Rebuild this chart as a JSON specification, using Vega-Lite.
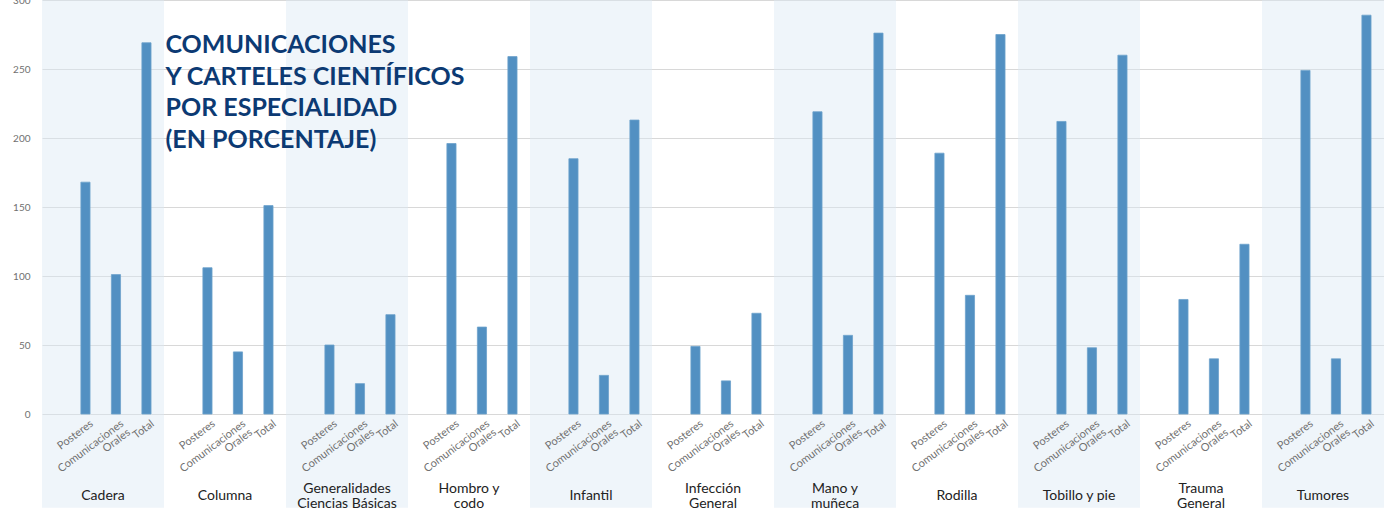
{
  "$schema": "https://vega.github.io/schema/vega-lite/v6.json",
  "padding": {"left": 12, "top": -5, "right": 0, "bottom": 0},
  "background": "white",
  "width": 1342,
  "height": 414,
  "data": {
    "values": [
      {"cat": "Cadera", "tipo": "Posteres", "valor": 168},
      {"cat": "Cadera", "tipo": "Comunicaciones Orales", "valor": 101},
      {"cat": "Cadera", "tipo": "Total", "valor": 269},
      {"cat": "Columna", "tipo": "Posteres", "valor": 106},
      {"cat": "Columna", "tipo": "Comunicaciones Orales", "valor": 45},
      {"cat": "Columna", "tipo": "Total", "valor": 151},
      {"cat": "Generalidades Ciencias Básicas", "tipo": "Posteres", "valor": 50},
      {"cat": "Generalidades Ciencias Básicas", "tipo": "Comunicaciones Orales", "valor": 22},
      {"cat": "Generalidades Ciencias Básicas", "tipo": "Total", "valor": 72},
      {"cat": "Hombro y codo", "tipo": "Posteres", "valor": 196},
      {"cat": "Hombro y codo", "tipo": "Comunicaciones Orales", "valor": 63},
      {"cat": "Hombro y codo", "tipo": "Total", "valor": 259},
      {"cat": "Infantil", "tipo": "Posteres", "valor": 185},
      {"cat": "Infantil", "tipo": "Comunicaciones Orales", "valor": 28},
      {"cat": "Infantil", "tipo": "Total", "valor": 213},
      {"cat": "Infección General", "tipo": "Posteres", "valor": 49},
      {"cat": "Infección General", "tipo": "Comunicaciones Orales", "valor": 24},
      {"cat": "Infección General", "tipo": "Total", "valor": 73},
      {"cat": "Mano y muñeca", "tipo": "Posteres", "valor": 219},
      {"cat": "Mano y muñeca", "tipo": "Comunicaciones Orales", "valor": 57},
      {"cat": "Mano y muñeca", "tipo": "Total", "valor": 276},
      {"cat": "Rodilla", "tipo": "Posteres", "valor": 189},
      {"cat": "Rodilla", "tipo": "Comunicaciones Orales", "valor": 86},
      {"cat": "Rodilla", "tipo": "Total", "valor": 275},
      {"cat": "Tobillo y pie", "tipo": "Posteres", "valor": 212},
      {"cat": "Tobillo y pie", "tipo": "Comunicaciones Orales", "valor": 48},
      {"cat": "Tobillo y pie", "tipo": "Total", "valor": 260},
      {"cat": "Trauma General", "tipo": "Posteres", "valor": 83},
      {"cat": "Trauma General", "tipo": "Comunicaciones Orales", "valor": 40},
      {"cat": "Trauma General", "tipo": "Total", "valor": 123},
      {"cat": "Tumores", "tipo": "Posteres", "valor": 249},
      {"cat": "Tumores", "tipo": "Comunicaciones Orales", "valor": 40},
      {"cat": "Tumores", "tipo": "Total", "valor": 289}
    ]
  },
  "encoding": {
    "x": {
      "field": "cat",
      "type": "nominal",
      "sort": null,
      "scale": {"paddingInner": 0, "paddingOuter": 0},
      "axis": {
        "title": null,
        "zindex": 1,
        "labelAngle": 0,
        "labelPadding": {
          "condition": {
            "test": "indexof(['Generalidades Ciencias Básicas', 'Hombro y codo', 'Infección General', 'Mano y muñeca', 'Trauma General'], datum.value) >= 0",
            "value": 74
          },
          "value": 81
        },
        "labelBaseline": "middle",
        "labelFont": "Lato",
        "labelFontSize": 14,
        "labelColor": "#222222",
        "labelLineHeight": 15,
        "ticks": false,
        "domain": false,
        "grid": false,
        "labelExpr": "datum.value == 'Generalidades Ciencias Básicas' ? ['Generalidades', 'Ciencias Básicas'] : datum.value == 'Hombro y codo' ? ['Hombro y', 'codo'] : datum.value == 'Infección General' ? ['Infección', 'General'] : datum.value == 'Mano y muñeca' ? ['Mano y', 'muñeca'] : datum.value == 'Trauma General' ? ['Trauma', 'General'] : datum.value"
      }
    },
    "y": {
      "type": "quantitative",
      "scale": {"domain": [0, 300], "nice": false},
      "axis": {
        "title": null,
        "zindex": 0,
        "grid": true,
        "gridColor": "#d8d8d8",
        "gridWidth": 1,
        "values": [0, 50, 100, 150, 200, 250, 300],
        "labelFont": "Lato",
        "labelFontSize": 10,
        "labelColor": "#707070",
        "labelPadding": 12,
        "ticks": false,
        "domain": false
      }
    }
  },
  "layer": [
    {
      "transform": [{"filter": "datum.tipo == 'Total'"}],
      "mark": {"type": "rect", "clip": false, "fillOpacity": 0.45},
      "encoding": {
        "y": {"datum": 300, "type": "quantitative"},
        "y2": {"datum": -68},
        "fill": {
          "condition": {
            "test": "indexof(['Cadera', 'Generalidades Ciencias Básicas', 'Infantil', 'Mano y muñeca', 'Tobillo y pie', 'Tumores'], datum.cat) >= 0",
            "value": "#dce8f3"
          },
          "value": "transparent"
        }
      }
    },
    {
      "mark": {"type": "bar", "color": "#5290c2", "stroke": "#6da2cc", "strokeWidth": 0.8},
      "encoding": {
        "xOffset": {
          "field": "tipo",
          "type": "nominal",
          "sort": ["Posteres", "Comunicaciones Orales", "Total"],
          "scale": {"paddingInner": 0.7, "paddingOuter": 0.85, "align": 0.75}
        },
        "y": {"field": "valor", "type": "quantitative"}
      }
    },
    {
      "mark": {
        "type": "text",
        "angle": -37,
        "align": "right",
        "baseline": "top",
        "dy": 5,
        "lineBreak": " ",
        "lineHeight": 11,
        "font": "Lato",
        "fontSize": 11,
        "color": "#707070"
      },
      "encoding": {
        "xOffset": {
          "field": "tipo",
          "type": "nominal",
          "sort": ["Posteres", "Comunicaciones Orales", "Total"]
        },
        "y": {"datum": 0, "type": "quantitative"},
        "text": {"field": "tipo"}
      }
    },
    {
      "transform": [{"filter": "datum.cat == 'Columna' && datum.tipo == 'Posteres'"}],
      "mark": {
        "type": "text",
        "text": ["COMUNICACIONES", "Y CARTELES CIENTÍFICOS", "POR ESPECIALIDAD", "(EN PORCENTAJE)"],
        "align": "left",
        "baseline": "top",
        "dx": -42,
        "font": "Lato",
        "fontSize": 25,
        "fontWeight": "bold",
        "lineHeight": 31.5,
        "color": "#0c3a73"
      },
      "encoding": {
        "xOffset": {
          "field": "tipo",
          "type": "nominal",
          "sort": ["Posteres", "Comunicaciones Orales", "Total"]
        },
        "y": {"datum": 276, "type": "quantitative"}
      }
    }
  ],
  "config": {
    "view": {"stroke": null},
    "axis": {"gridColor": "#d8d8d8"}
  }
}
